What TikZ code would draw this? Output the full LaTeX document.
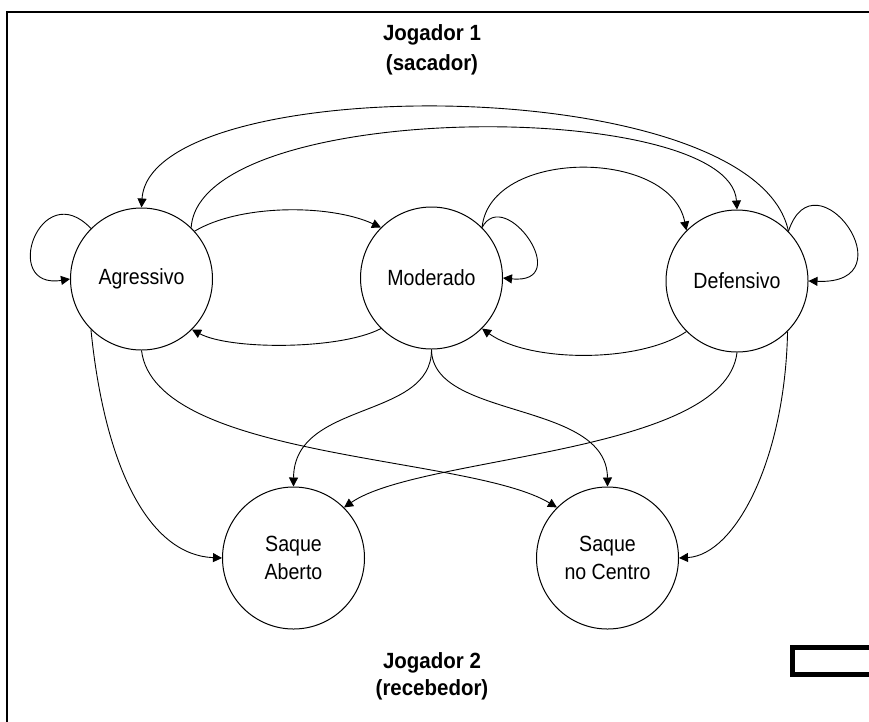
\documentclass[tikz,border=0pt]{standalone}
\usepackage{fontspec}
\setmainfont{Liberation Sans}
\newfontfamily\labfont{Liberation Sans}[FakeStretch=0.89]
\newfontfamily\titfont{Liberation Sans}[FakeStretch=0.93]
\usetikzlibrary{arrows.meta}
\begin{document}
\begin{tikzpicture}[x=1pt,y=-1pt,
  state/.style={circle, draw, line width=1pt, minimum size=142pt, inner sep=0pt, align=center,
    font=\labfont\fontsize{22}{28}\selectfont},
  edge/.style={draw, line width=0.9pt, -{Triangle[length=9pt,width=9pt]}},
  title/.style={align=center, inner sep=0pt, font=\titfont\bfseries\fontsize{22}{30}\selectfont}]
\useasboundingbox (0,0) rectangle (869,721);
\clip (0,0) rectangle (869,721);
\fill[white] (0,0) rectangle (869,721);
\draw[line width=2.5pt] (7,722) -- (7,12) -- (870,12);
\draw[line width=5pt] (792.5,647.5) rectangle (880,674.5);

\node[title] (t1) at (432,50) {Jogador 1\\(sacador)};
\node[title, font=\titfont\bfseries\fontsize{22}{27}\selectfont] (t2) at (432,676) {Jogador 2\\(recebedor)};

\node[state] (A) at (141.5,279) {Agressivo};
\node[state] (M) at (431.5,278) {Moderado};
\node[state] (D) at (737,281) {Defensivo};
\node[state] (SA) at (293.5,558) {Saque\\Aberto};
\node[state] (SC) at (607.5,558) {Saque\\no Centro};

\draw[edge] (D.44) .. controls (755,70) and (150,70) .. (A.90);
\draw[edge] (A.46) .. controls (200,98) and (730,98) .. (D.90);
\draw[edge] (A.42) .. controls (240,204) and (330,204) .. (M.135);
\draw[edge] (M.45) .. controls (490,148) and (670,148) .. (D.135);
\draw[edge] (A.135) .. controls (40,175) and (0,290) .. (A.180);
\draw[edge] (M.45) .. controls (505,185) and (575,285) .. (M.0);
\draw[edge] (D.44) .. controls (815,150) and (912,285) .. (D.0);
\draw[edge] (M.225) .. controls (340,350) and (230,350) .. (A.-45);
\draw[edge] (D.225) .. controls (640,363) and (530,363) .. (M.-45);
\draw[edge] (A.225) .. controls (105,470) and (150,555) .. (SA.180);
\draw[edge] (A.270) .. controls (155,460) and (470,455) .. (SC.135);
\draw[edge] (D.270) .. controls (725,455) and (420,455) .. (SA.45);
\draw[edge] (M.270) .. controls (432,420) and (294,400) .. (SA.90);
\draw[edge] (M.270) .. controls (432,420) and (607,400) .. (SC.90);
\draw[edge] (D.-45) .. controls (785,460) and (735,555) .. (SC.0);
\end{tikzpicture}
\end{document}
